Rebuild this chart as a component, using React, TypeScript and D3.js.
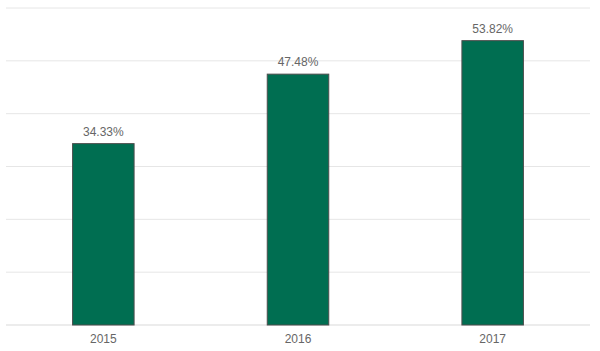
import React from "react";
import * as d3 from "d3";

const categories = ["2015", "2016", "2017"];
const values = [34.33, 47.48, 53.82];
const yTicks = [0, 10, 20, 30, 40, 50, 60];

const W = 600, H = 351;
const left = 6, right = 590, top = 8, bottom = 325;

export default function App() {
  const x = d3.scaleBand<string>().domain(categories).range([left, right]).paddingInner(0.684).paddingOuter(0.342);
  const y = d3.scaleLinear().domain([0, 60]).range([bottom, top]);
  return (
    <svg width={W} height={H} style={{ position: "absolute", left: 0, top: 0 }} fontFamily="'Liberation Sans', Arial, sans-serif">
      {yTicks.map((t) => (
        <line key={t} x1={left} x2={right} y1={y(t)} y2={y(t)} stroke={t === 0 ? "#d9d9d9" : "#e6e6e6"} strokeWidth={1} />
      ))}
      {categories.map((c, i) => (
        <g key={c}>
          <rect x={x(c)!} y={y(values[i])} width={x.bandwidth()} height={bottom - y(values[i])} fill="#006E51" stroke="#4d4d4d" strokeWidth={1} />
          <text x={x(c)! + x.bandwidth() / 2} y={y(values[i]) - 8} textAnchor="middle" fontSize={12} fill="#666">{values[i].toFixed(2)}%</text>
          <text x={x(c)! + x.bandwidth() / 2} y={343} textAnchor="middle" fontSize={12} fill="#666">{c}</text>
        </g>
      ))}
    </svg>
  );
}
